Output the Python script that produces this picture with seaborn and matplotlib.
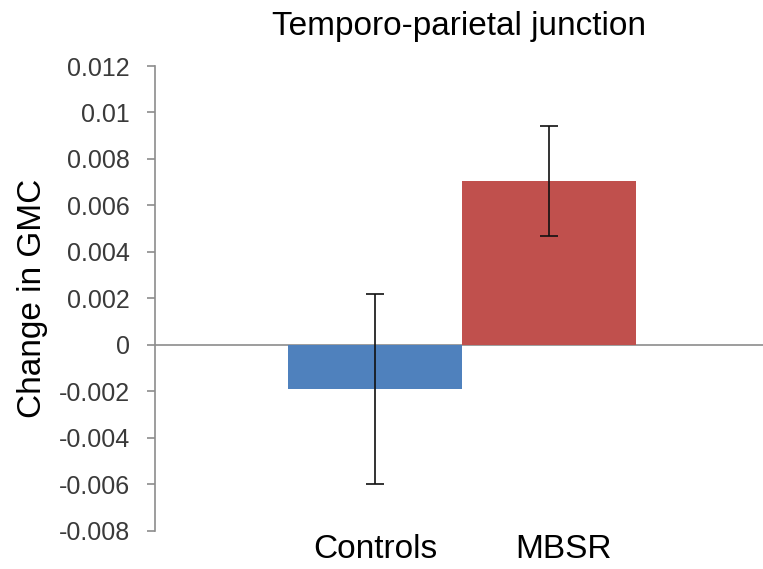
import matplotlib
matplotlib.use("Agg")
import matplotlib.pyplot as plt
import matplotlib.transforms as mtransforms
import seaborn as sns
import pandas as pd

groups = ["Controls", "MBSR"]
changes = [-0.0019, 0.00705]
errors = [0.0041, 0.00237]
colors = ["#4F81BD", "#C0504D"]
yticks = [-0.008, -0.006, -0.004, -0.002, 0, 0.002, 0.004, 0.006, 0.008, 0.01, 0.012]
ytick_labels = ["-0.008", "-0.006", "-0.004", "-0.002", "0", "0.002", "0.004",
                "0.006", "0.008", "0.01", "0.012"]

sns.set_style("white")
plt.rcParams["font.family"] = ["Liberation Sans", "DejaVu Sans"]

df = pd.DataFrame({"group": groups, "change": changes})

fig = plt.figure(figsize=(7.63, 5.69), dpi=100)
ax = fig.add_axes([0.203, 0.067, 0.797, 0.817])
sns.barplot(data=df, x="group", y="change", hue="group", palette=colors,
            width=1.0, legend=False, ax=ax, errorbar=None, saturation=1,
            linewidth=0)
ax.errorbar(x=range(len(groups)), y=changes, yerr=errors, fmt="none",
            ecolor="#111111", elinewidth=1.2, capsize=6.5, capthick=1.2)

ax.set_ylim(-0.008, 0.012)
ax.set_xlim(-1.264, 2.23)
ax.set_yticks(yticks)
ax.set_yticklabels(ytick_labels, fontsize=18, color="#3a3a3a")
ax.axhline(0, color="#8c8c8c", lw=1.2, zorder=0.5)

for s in ["top", "right", "bottom"]:
    ax.spines[s].set_visible(False)
ax.spines["left"].set_color("#8c8c8c")
ax.spines["left"].set_linewidth(1.2)
ax.tick_params(axis="y", which="major", direction="out", length=6, width=1.2,
               color="#8c8c8c", left=True, pad=12)
ax.tick_params(axis="x", length=0, labelsize=24, pad=2)
xlabels = ax.get_xticklabels()
for lbl in xlabels:
    lbl.set_color("black")
# Shift the MBSR label slightly right, as in the reference
shift = mtransforms.ScaledTranslation(15 / 100, 0, fig.dpi_scale_trans)
xlabels[1].set_transform(xlabels[1].get_transform() + shift)

ax.set_xlabel("")
ax.set_ylabel("Change in GMC", fontsize=24, labelpad=8, color="black")
ax.set_title("Temporo-parietal junction", fontsize=24, pad=22, color="black")

fig.savefig("out.png", dpi=100, facecolor="white")
